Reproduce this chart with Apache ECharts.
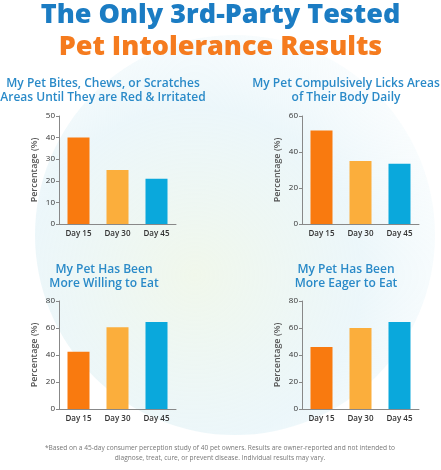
<!DOCTYPE html>
<html>
<head>
<meta charset="utf-8">
<script src="https://cdn.jsdelivr.net/npm/echarts@6/dist/echarts.min.js"></script>
<style>
  html, body { margin: 0; padding: 0; background: #fff; }
  #chart { width: 441px; height: 470px; }
</style>
</head>
<body>
<div id="chart"></div>
<script>
const days = ['Day 15', 'Day 30', 'Day 45'];
const barColors = ['#f97a0f', '#fbae3c', '#0aa8dc'];
const bitesValues = [40, 25, 21];
const licksValues = [52, 35, 33.5];
const willingValues = [42.5, 60.5, 64.5];
const eagerValues = [46, 60, 64.5];
const axisMax = [50, 60, 80, 80];
const axisStep = [10, 20, 20, 20];

const panels = [
  { values: bitesValues, left: 59, top: 116, title: 'My Pet Bites, Chews, or Scratches\nAreas Until They are Red & Irritated', tx: 103, ty: 91 },
  { values: licksValues, left: 302, top: 116, title: 'My Pet Compulsively Licks Areas\nof Their Body Daily', tx: 346, ty: 91 },
  { values: willingValues, left: 59, top: 301, title: 'My Pet Has Been\nMore Willing to Eat', tx: 104, ty: 277 },
  { values: eagerValues, left: 302, top: 301, title: 'My Pet Has Been\nMore Eager to Eat', tx: 346, ty: 277 }
];

const chart = echarts.init(document.getElementById('chart'));

const grid = [], xAxis = [], yAxis = [], series = [], graphic = [];

graphic.push({
  type: 'circle', z: -10, silent: true,
  shape: { cx: 235, cy: 235, r: 200 },
  style: {
    fill: new echarts.graphic.RadialGradient(0.4, 0.6, 0.7, [
      { offset: 0, color: 'rgba(238,246,232,0.85)' },
      { offset: 0.6, color: 'rgba(228,243,248,0.7)' },
      { offset: 1, color: 'rgba(236,247,251,0.2)' }
    ])
  }
});

graphic.push({
  type: 'text', left: 'center', top: 2,
  style: { text: 'The Only 3rd-Party Tested', font: '900 27px "Open Sans", sans-serif', fill: '#1b7cc3' }
});
graphic.push({
  type: 'text', left: 'center', top: 34,
  style: { text: 'Pet Intolerance Results', font: '900 27px "Open Sans", sans-serif', fill: '#f57b1e' }
});
graphic.push({
  type: 'text', x: 220, y: 453,
  style: {
    text: '*Based on a 45-day consumer perception study of 40 pet owners. Results are owner-reported and not intended to\ndiagnose, treat, cure, or prevent disease. Individual results may vary.',
    font: '6.6px "Open Sans", sans-serif', fill: '#777', align: 'center', verticalAlign: 'middle', lineHeight: 10
  }
});

panels.forEach((p, i) => {
  grid.push({ left: p.left, top: p.top, width: 117, height: 108 });
  xAxis.push({
    type: 'category', gridIndex: i, data: days,
    axisLine: { lineStyle: { color: '#888' } },
    axisTick: { show: false },
    axisLabel: { color: '#333', fontSize: 8, fontFamily: 'Open Sans', fontWeight: 600, margin: 6 }
  });
  yAxis.push({
    type: 'value', gridIndex: i, min: 0, max: axisMax[i], interval: axisStep[i],
    name: 'Percentage (%)', nameLocation: 'middle', nameGap: 20, nameRotate: 90,
    nameTextStyle: { color: '#555', fontSize: 9, fontFamily: 'Open Sans', fontWeight: 600 },
    axisLine: { show: true, lineStyle: { color: '#888' } },
    axisTick: { show: true, length: 3, lineStyle: { color: '#888' } },
    splitLine: { show: false },
    axisLabel: { color: '#333', fontSize: 8, fontFamily: 'Open Sans', margin: 4 }
  });
  series.push({
    type: 'bar', xAxisIndex: i, yAxisIndex: i, barWidth: 22,
    data: p.values.map((v, j) => ({ value: v, itemStyle: { color: barColors[j] } }))
  });
  graphic.push({
    type: 'text', x: p.tx, y: p.ty,
    style: {
      text: p.title, font: '600 12px "Open Sans", sans-serif', fill: '#2a8ac8',
      align: 'center', verticalAlign: 'middle', lineHeight: 14
    }
  });
});

chart.setOption({ animation: false, grid, xAxis, yAxis, series, graphic });
</script>
</body>
</html>
